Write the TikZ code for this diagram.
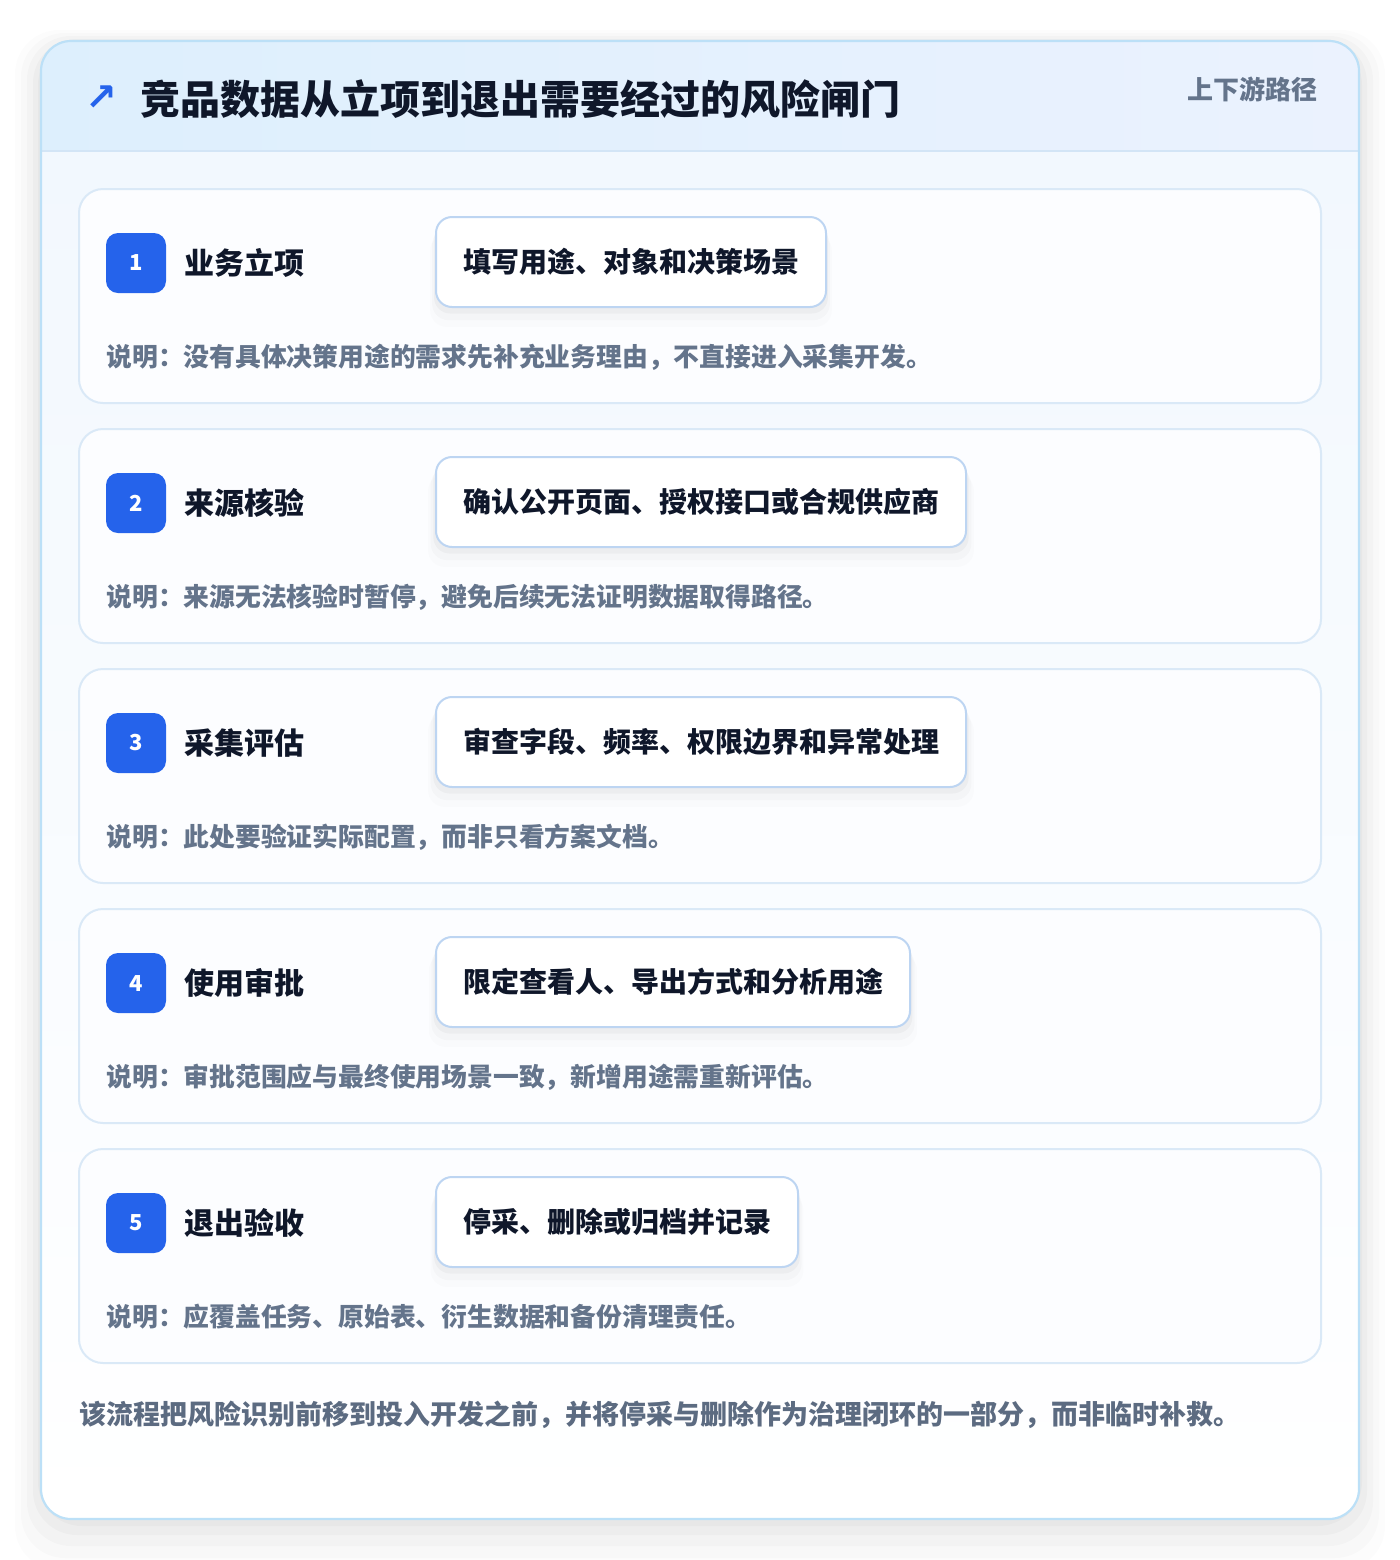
\documentclass[tikz,border=0pt]{standalone}
\usepackage{fontspec}
\setmainfont{Noto Sans CJK SC}
\newfontfamily\symfont{DejaVu Sans}
\usepackage{xcolor}
\usepackage{tikz}
\usetikzlibrary{calc,shadows}
\definecolor{page}{HTML}{FFFFFF}
\definecolor{frameline}{HTML}{BCE0F7}
\definecolor{headl}{HTML}{DDEFFD}
\definecolor{headr}{HTML}{EBF2FE}
\definecolor{sepline}{HTML}{D3E5F6}
\definecolor{bodytop}{HTML}{F2F8FE}
\definecolor{bodybot}{HTML}{FFFFFF}
\definecolor{cardbg}{HTML}{FCFDFF}
\definecolor{cardline}{HTML}{DAE9F7}
\definecolor{gateline}{HTML}{BDD5F2}
\definecolor{badgebg}{HTML}{2563EB}
\definecolor{ink}{HTML}{0F172A}
\definecolor{muted}{HTML}{64748B}
\tikzset{
  frame/.style={draw=frameline, line width=1.1pt, rounded corners=15pt},
  halo/.style={fill=black, rounded corners=22pt},
  stepcard/.style={draw=cardline, fill=cardbg, line width=1pt, rounded corners=12pt},
  badge/.style={fill=badgebg, rounded corners=6pt, text=white, minimum size=30pt, inner sep=0pt,
    font=\bfseries\fontsize{11}{11}\selectfont},
  steptitle/.style={anchor=west, inner sep=0pt, text=ink, font=\bfseries\fontsize{15}{18}\selectfont},
  gate/.style={anchor=west, draw=gateline, fill=white, line width=1pt, rounded corners=8pt,
    minimum height=45pt, inner xsep=13.5pt, text=ink, font=\bfseries\fontsize{14}{16}\selectfont,
    drop shadow={shadow xshift=0pt, shadow yshift=-9pt, shadow scale=1.03, opacity=0.012, fill=black},
    drop shadow={shadow xshift=0pt, shadow yshift=-6pt, shadow scale=1.02, opacity=0.02, fill=black},
    drop shadow={shadow xshift=0pt, shadow yshift=-3pt, shadow scale=1.01, opacity=0.03, fill=black}},
  note/.style={anchor=west, inner sep=0pt, text=muted, font=\bfseries\fontsize{12.9}{15}\selectfont},
  title/.style={anchor=west, inner sep=0pt, text=ink, font=\bfseries\fontsize{20}{24}\selectfont},
  tag/.style={anchor=east, inner sep=0pt, text=muted, font=\bfseries\fontsize{13}{15}\selectfont},
  icon/.style={inner sep=0pt, text=badgebg, font=\symfont\bfseries\fontsize{19}{19}\selectfont},
  closing/.style={anchor=west, inner sep=0pt, text=muted!90!ink, font=\bfseries\fontsize{13.5}{16}\selectfont},
}

\begin{document}
\begin{tikzpicture}[x=0.5pt,y=-0.5pt]
  \useasboundingbox[fill=page] (0,0) rectangle (1400,1560);

  % soft shadow round the outer card
  \fill[halo, opacity=0.012] (15,30) rectangle (1385,1570);
  \fill[halo, opacity=0.015] (21,33) rectangle (1379,1558);
  \fill[halo, opacity=0.018] (27,36) rectangle (1373,1546);
  \fill[halo, opacity=0.022] (33,39) rectangle (1367,1535);
  \fill[halo, opacity=0.025] (38,41) rectangle (1362,1526);

  % outer card: header band and body
  \begin{scope}
    \clip[rounded corners=15pt] (41,41) rectangle (1359,1519);
    \shade[top color=bodytop, bottom color=bodybot] (41,151) rectangle (1359,1519);
    \shade[left color=headl, right color=headr] (41,41) rectangle (1359,151);
  \end{scope}
  \draw[sepline, line width=1pt] (41,151) -- (1359,151); % header rule
  \draw[frame] (41,41) rectangle (1359,1519);

  \node[icon] (icon) at (101,98) {↗};
  \node[title] (title) at (140,99) {竞品数据从立项到退出需要经过的风险闸门};
  \node[tag] (tag) at (1318,89) {上下游路径};

  % step 1
  \draw[stepcard] (79,189) rectangle (1321,403);
  \node[badge] (b1) at (136,263) {1};
  \node[steptitle] (t1) at (184,263) {业务立项};
  \node[gate] (g1) at (435,262) {填写用途、对象和决策场景};
  \node[note] (n1) at (106,357) {说明：没有具体决策用途的需求先补充业务理由，不直接进入采集开发。};

  % step 2
  \draw[stepcard] (79,429) rectangle (1321,643);
  \node[badge] (b2) at (136,503) {2};
  \node[steptitle] (t2) at (184,503) {来源核验};
  \node[gate] (g2) at (435,502) {确认公开页面、授权接口或合规供应商};
  \node[note] (n2) at (106,597) {说明：来源无法核验时暂停，避免后续无法证明数据取得路径。};

  % step 3
  \draw[stepcard] (79,669) rectangle (1321,883);
  \node[badge] (b3) at (136,743) {3};
  \node[steptitle] (t3) at (184,743) {采集评估};
  \node[gate] (g3) at (435,742) {审查字段、频率、权限边界和异常处理};
  \node[note] (n3) at (106,837) {说明：此处要验证实际配置，而非只看方案文档。};

  % step 4
  \draw[stepcard] (79,909) rectangle (1321,1123);
  \node[badge] (b4) at (136,983) {4};
  \node[steptitle] (t4) at (184,983) {使用审批};
  \node[gate] (g4) at (435,982) {限定查看人、导出方式和分析用途};
  \node[note] (n4) at (106,1077) {说明：审批范围应与最终使用场景一致，新增用途需重新评估。};

  % step 5
  \draw[stepcard] (79,1149) rectangle (1321,1363);
  \node[badge] (b5) at (136,1223) {5};
  \node[steptitle] (t5) at (184,1223) {退出验收};
  \node[gate] (g5) at (435,1222) {停采、删除或归档并记录};
  \node[note] (n5) at (106,1317) {说明：应覆盖任务、原始表、衍生数据和备份清理责任。};

  \node[closing] (foot) at (79,1415) {该流程把风险识别前移到投入开发之前，并将停采与删除作为治理闭环的一部分，而非临时补救。};
\end{tikzpicture}
\end{document}
